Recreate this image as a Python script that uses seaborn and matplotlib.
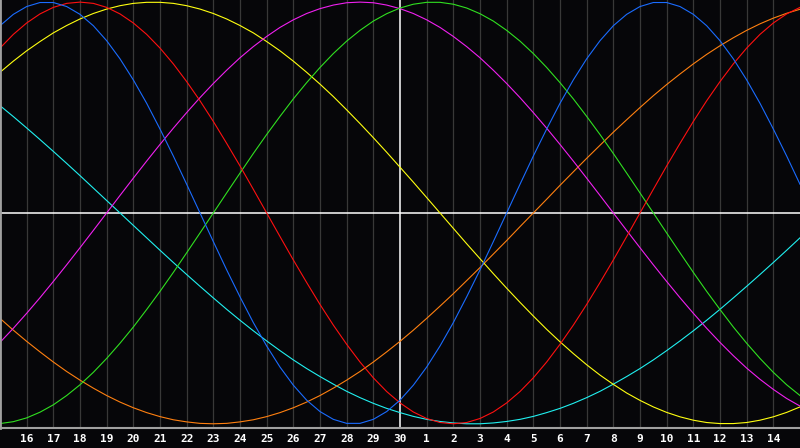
import matplotlib
matplotlib.use("Agg")
import matplotlib.pyplot as plt
import seaborn as sns
import pandas as pd

# Half-day positions across the chart (0 = left edge, 30 = right edge)
day_pos = [i / 2 for i in range(61)]
# Tick labels at day positions 1..29
tick_pos = list(range(1, 30))
tick_labels = ["16", "17", "18", "19", "20", "21", "22", "23", "24", "25", "26", "27", "28", "29", "30",
               "1", "2", "3", "4", "5", "6", "7", "8", "9", "10", "11", "12", "13", "14"]

physical = [0.888, 0.942, 0.979, 0.998, 0.998, 0.979, 0.942, 0.888, 0.817, 0.731, 0.631, 0.520,
            0.398, 0.270, 0.136, 0.000, -0.136, -0.270, -0.398, -0.520, -0.631, -0.731, -0.817,
            -0.888, -0.942, -0.979, -0.998, -0.998, -0.979, -0.942, -0.888, -0.817, -0.731, -0.631,
            -0.520, -0.398, -0.270, -0.136, 0.000, 0.136, 0.270, 0.398, 0.520, 0.631, 0.731, 0.817,
            0.888, 0.942, 0.979, 0.998, 0.998, 0.979, 0.942, 0.888, 0.817, 0.731, 0.631, 0.520,
            0.398, 0.270, 0.136]
emotional = [0.782, 0.847, 0.901, 0.944, 0.975, 0.994, 1.000, 0.994, 0.975, 0.944, 0.901, 0.847,
             0.782, 0.707, 0.623, 0.532, 0.434, 0.330, 0.223, 0.112, 0.000, -0.112, -0.223, -0.330,
             -0.434, -0.532, -0.623, -0.707, -0.782, -0.847, -0.901, -0.944, -0.975, -0.994, -1.000,
             -0.994, -0.975, -0.944, -0.901, -0.847, -0.782, -0.707, -0.623, -0.532, -0.434, -0.330,
             -0.223, -0.112, 0.000, 0.112, 0.223, 0.330, 0.434, 0.532, 0.623, 0.707, 0.782, 0.847,
             0.901, 0.944, 0.975]
intellectual = [-0.999, -0.990, -0.972, -0.945, -0.910, -0.866, -0.815, -0.756, -0.690, -0.618,
                -0.541, -0.458, -0.372, -0.282, -0.189, -0.095, 0.000, 0.095, 0.189, 0.282, 0.372,
                0.458, 0.541, 0.618, 0.690, 0.756, 0.815, 0.866, 0.910, 0.945, 0.972, 0.990, 0.999,
                0.999, 0.990, 0.972, 0.945, 0.910, 0.866, 0.815, 0.756, 0.690, 0.618, 0.541, 0.458,
                0.372, 0.282, 0.189, 0.095, 0.000, -0.095, -0.189, -0.282, -0.372, -0.458, -0.541,
                -0.618, -0.690, -0.756, -0.815, -0.866]
intuitive = [-0.614, -0.547, -0.476, -0.402, -0.325, -0.246, -0.165, -0.083, 0.000, 0.083, 0.165,
             0.246, 0.325, 0.402, 0.476, 0.547, 0.614, 0.677, 0.736, 0.789, 0.837, 0.880, 0.916,
             0.946, 0.969, 0.986, 0.997, 1.000, 0.997, 0.986, 0.969, 0.946, 0.916, 0.880, 0.837,
             0.789, 0.736, 0.677, 0.614, 0.547, 0.476, 0.402, 0.325, 0.246, 0.165, 0.083, 0.000,
             -0.083, -0.165, -0.246, -0.325, -0.402, -0.476, -0.547, -0.614, -0.677, -0.736, -0.789,
             -0.837, -0.880, -0.916]
aesthetic = [0.667, 0.720, 0.769, 0.813, 0.854, 0.889, 0.920, 0.946, 0.967, 0.983, 0.994, 0.999,
             0.999, 0.994, 0.983, 0.967, 0.946, 0.920, 0.889, 0.854, 0.813, 0.769, 0.720, 0.667,
             0.611, 0.552, 0.489, 0.424, 0.357, 0.288, 0.217, 0.146, 0.073, 0.000, -0.073, -0.146,
             -0.217, -0.288, -0.357, -0.424, -0.489, -0.552, -0.611, -0.667, -0.720, -0.769, -0.813,
             -0.854, -0.889, -0.920, -0.946, -0.967, -0.983, -0.994, -0.999, -0.999, -0.994, -0.983,
             -0.967, -0.946, -0.920]
awareness = [-0.500, -0.556, -0.609, -0.659, -0.707, -0.752, -0.793, -0.831, -0.866, -0.897, -0.924,
             -0.947, -0.966, -0.981, -0.991, -0.998, -1.000, -0.998, -0.991, -0.981, -0.966, -0.947,
             -0.924, -0.897, -0.866, -0.831, -0.793, -0.752, -0.707, -0.659, -0.609, -0.556, -0.500,
             -0.442, -0.383, -0.321, -0.259, -0.195, -0.131, -0.065, 0.000, 0.065, 0.131, 0.195,
             0.259, 0.321, 0.383, 0.442, 0.500, 0.556, 0.609, 0.659, 0.707, 0.752, 0.793, 0.831,
             0.866, 0.897, 0.924, 0.947, 0.966]
spiritual = [0.509, 0.457, 0.403, 0.348, 0.292, 0.235, 0.177, 0.118, 0.059, 0.000, -0.059, -0.118,
             -0.177, -0.235, -0.292, -0.348, -0.403, -0.457, -0.509, -0.559, -0.607, -0.653, -0.697,
             -0.738, -0.776, -0.812, -0.846, -0.876, -0.903, -0.927, -0.947, -0.965, -0.979, -0.989,
             -0.996, -1.000, -1.000, -0.996, -0.989, -0.979, -0.965, -0.947, -0.927, -0.903, -0.876,
             -0.846, -0.812, -0.776, -0.738, -0.697, -0.653, -0.607, -0.559, -0.509, -0.457, -0.403,
             -0.348, -0.292, -0.235, -0.177, -0.118]

series = {
    "spiritual": spiritual,
    "awareness": awareness,
    "aesthetic": aesthetic,
    "intuitive": intuitive,
    "intellectual": intellectual,
    "emotional": emotional,
    "physical": physical,
}
palette = {
    "physical": "#1a6cff",
    "emotional": "#ff1010",
    "intellectual": "#30e020",
    "intuitive": "#f020f0",
    "aesthetic": "#ffff10",
    "awareness": "#ff8010",
    "spiritual": "#20f0f0",
}

rows = []
for name, vals in series.items():
    for d, v in zip(day_pos, vals):
        rows.append({"day": d, "value": v, "cycle": name})
df = pd.DataFrame(rows)

bg = "#060609"
fig = plt.figure(figsize=(8, 4.48), dpi=100, facecolor=bg)
ax = fig.add_axes([0, 20 / 448, 1, 428 / 448], facecolor=bg)

# grid lines
for p in tick_pos:
    if p != 15:
        ax.axvline(p, color="#383838", lw=0.9, zorder=1)
ax.axvline(15, color="#ffffff", lw=1.1, zorder=2)
ax.axhline(0, color="#ffffff", lw=1.1, zorder=2)

sns.lineplot(data=df, x="day", y="value", hue="cycle", palette=palette, ax=ax,
             legend=False, linewidth=0.8, sort=False, zorder=3)

ax.set_xlim(0, 30)
ax.set_ylim(-1.02, 1.01)
ax.set_xticks(tick_pos)
ax.set_xticklabels(tick_labels, fontfamily="DejaVu Sans Mono", fontweight="bold",
                   fontsize=8, color="white")
ax.set_yticks([])
ax.tick_params(axis="x", length=0, pad=4)
ax.set_xlabel("")
ax.set_ylabel("")
for s in ["top", "right"]:
    ax.spines[s].set_visible(False)
ax.spines["left"].set_color("#a0a0a0")
ax.spines["left"].set_linewidth(2)
ax.spines["bottom"].set_color("#a0a0a0")
ax.spines["bottom"].set_linewidth(1.5)
ax.spines["left"].set_zorder(5)

fig.savefig("out.png", dpi=100, facecolor=bg)
